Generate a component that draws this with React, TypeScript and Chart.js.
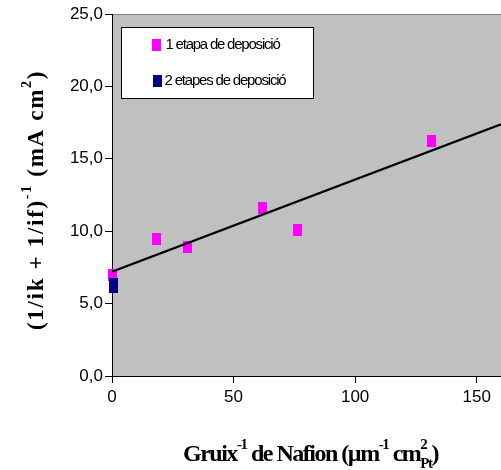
import React, { useEffect, useRef } from "react";
import { Chart, registerables } from "chart.js";

Chart.register(...registerables);

// ---- data ----
const SERIES1_LABEL = "1 etapa de deposició";
const SERIES2_LABEL = "2 etapes de deposició";
const S1_X = [0, 18.4, 31.0, 61.9, 76.5, 131.6];
const S1_Y = [6.96, 9.43, 8.93, 11.58, 10.08, 16.26];
const S2_X = [0.8, 0.8];
const S2_Y = [6.32, 6.18];
const TREND_X = [0, 160];
const TREND_Y = [7.2, 17.38];
const X_TICKS = [0, 50, 100, 150];
const Y_TICKS = [0, 5, 10, 15, 20, 25];

const PINK = "#FF00FF";
const NAVY = "#000080";
const SANS = "'Liberation Sans', Arial, sans-serif";
const SERIF = "'Liberation Serif', 'Times New Roman', serif";

type Seg = { t: string; k?: "sup" | "sub" | "supsub"; s2?: string };

const X_TITLE: Seg[] = [
  { t: "Gruix" },
  { t: "-1", k: "sup" },
  { t: " de Nafion (µm" },
  { t: "-1", k: "sup" },
  { t: " cm" },
  { t: "2", k: "supsub", s2: "Pt" },
  { t: ")" },
];
const Y_TITLE: Seg[] = [
  { t: "(1/ik + 1/if)" },
  { t: "-1", k: "sup" },
  { t: " (mA cm" },
  { t: "2", k: "sup" },
  { t: ")" },
];

function markerCanvas(color: string, w: number, h: number) {
  const c = document.createElement("canvas");
  c.width = w;
  c.height = h;
  const g = c.getContext("2d")!;
  g.fillStyle = color;
  g.fillRect(0, 0, w, h);
  return c;
}

function strW(ctx: CanvasRenderingContext2D, s: string, font: string, sp: number) {
  ctx.font = font;
  let w = 0;
  for (const ch of s) w += ctx.measureText(ch).width + sp;
  return w;
}

function drawStr(ctx: CanvasRenderingContext2D, s: string, x: number, y: number, font: string, sp: number) {
  ctx.font = font;
  let cx = x;
  for (const ch of s) {
    ctx.fillText(ch, cx, y);
    cx += ctx.measureText(ch).width + sp;
  }
  return cx - x;
}

function richWidth(ctx: CanvasRenderingContext2D, segs: Seg[], size: number, fam: string, sp: number) {
  const main = `bold ${size}px ${fam}`;
  const small = `bold ${Math.round(size * 0.62)}px ${fam}`;
  let w = 0;
  for (const s of segs) {
    if (!s.k) w += strW(ctx, s.t, main, sp);
    else if (s.k === "supsub") w += Math.max(strW(ctx, s.t, small, sp), strW(ctx, s.s2 || "", small, sp));
    else w += strW(ctx, s.t, small, sp);
  }
  return w;
}

function countChars(segs: Seg[]) {
  let n = 0;
  for (const s of segs) n += Math.max(s.t.length, (s.s2 || "").length);
  return n;
}

function drawRich(
  ctx: CanvasRenderingContext2D,
  segs: Seg[],
  cx: number,
  baseY: number,
  size: number,
  fam: string,
  target: number
) {
  const natural = richWidth(ctx, segs, size, fam, 0);
  const sp = (target - natural) / countChars(segs);
  const total = richWidth(ctx, segs, size, fam, sp);
  const main = `bold ${size}px ${fam}`;
  const small = `bold ${Math.round(size * 0.62)}px ${fam}`;
  let x = cx - total / 2;
  ctx.textBaseline = "alphabetic";
  ctx.textAlign = "left";
  for (const s of segs) {
    if (!s.k) x += drawStr(ctx, s.t, x, baseY, main, sp);
    else if (s.k === "sup") x += drawStr(ctx, s.t, x, baseY - size * 0.5, small, sp);
    else if (s.k === "sub") x += drawStr(ctx, s.t, x, baseY + size * 0.3, small, sp);
    else {
      const a = drawStr(ctx, s.t, x, baseY - size * 0.5, small, sp);
      const b = drawStr(ctx, s.s2 || "", x, baseY + size * 0.3, small, sp);
      x += Math.max(a, b);
    }
  }
}

const bgPlugin = {
  id: "bgPlugin",
  beforeDraw(chart: any) {
    const { ctx, chartArea } = chart;
    ctx.save();
    ctx.fillStyle = "#FFFFFF";
    ctx.fillRect(0, 0, chart.width, chart.height);
    ctx.fillStyle = "#C0C0C0";
    ctx.fillRect(chartArea.left, chartArea.top, chartArea.right - chartArea.left, chartArea.bottom - chartArea.top);
    ctx.strokeStyle = "#808080";
    ctx.lineWidth = 1;
    ctx.beginPath();
    ctx.moveTo(chartArea.left, chartArea.top + 0.5);
    ctx.lineTo(chartArea.right, chartArea.top + 0.5);
    ctx.stroke();
    ctx.restore();
  },
};

const overlayPlugin = {
  id: "overlayPlugin",
  afterDraw(chart: any) {
    const { ctx } = chart;
    ctx.save();
    // legend
    const lx = 121, ly = 27, lw = 192, lh = 71;
    ctx.fillStyle = "#FFFFFF";
    ctx.fillRect(lx, ly, lw, lh);
    ctx.strokeStyle = "#000000";
    ctx.lineWidth = 1;
    ctx.strokeRect(lx + 0.5, ly + 0.5, lw, lh);
    const items = [
      { label: chart.data.datasets[1].label, color: PINK, y: 44.8, mx: 152, tx: 165.5, w: 114 },
      { label: chart.data.datasets[2].label, color: NAVY, y: 80.5, mx: 153, tx: 164.5, w: 121 },
    ];
    for (const it of items) {
      ctx.fillStyle = it.color;
      ctx.fillRect(it.mx, Math.round(it.y - 6), 9, 12);
      const font = `15px ${SANS}`;
      const nat = strW(ctx, it.label, font, 0);
      const sp = (it.w - nat) / it.label.length;
      ctx.fillStyle = "#000000";
      ctx.textBaseline = "middle";
      ctx.textAlign = "left";
      drawStr(ctx, it.label, it.tx, it.y, font, sp);
    }
    // titles
    ctx.fillStyle = "#000000";
    drawRich(ctx, X_TITLE, 310.5, 461, 24, SERIF, 255);
    ctx.save();
    ctx.translate(42.5, 200);
    ctx.rotate(-Math.PI / 2);
    drawRich(ctx, Y_TITLE, 0, 0, 23, SERIF, 260);
    ctx.restore();
    ctx.restore();
  },
};

export default function App() {
  const ref = useRef<HTMLCanvasElement | null>(null);
  useEffect(() => {
    if (!ref.current) return;
    const pinkM = markerCanvas(PINK, 9, 12);
    const navyM = markerCanvas(NAVY, 9, 12);
    const chart = new Chart(ref.current, {
      type: "scatter",
      data: {
        datasets: [
          {
            type: "line",
            label: "trend",
            data: TREND_X.map((x, i) => ({ x, y: TREND_Y[i] })),
            borderColor: "#000000",
            borderWidth: 2.2,
            pointRadius: 0,
            fill: false,
            order: 0,
          } as any,
          {
            label: SERIES1_LABEL,
            data: S1_X.map((x, i) => ({ x, y: S1_Y[i] })),
            pointStyle: pinkM,
            pointRadius: 6,
            backgroundColor: PINK,
            order: 2,
            clip: false,
          } as any,
          {
            label: SERIES2_LABEL,
            data: S2_X.map((x, i) => ({ x, y: S2_Y[i] })),
            pointStyle: navyM,
            pointRadius: 6,
            backgroundColor: NAVY,
            order: 1,
            clip: false,
          } as any,
        ],
      },
      options: {
        animation: false,
        responsive: false,
        events: [],
        layout: { autoPadding: false, padding: { top: 14, left: 0, right: 0, bottom: 0 } },
        plugins: { legend: { display: false }, tooltip: { enabled: false } },
        scales: {
          x: {
            type: "linear",
            min: 0,
            max: 160,
            afterBuildTicks: (s: any) => {
              s.ticks = X_TICKS.map((v) => ({ value: v }));
            },
            afterFit: (s: any) => {
              s.height = 94;
              s.paddingRight = 0;
              s.paddingLeft = 0;
            },
            grid: { drawOnChartArea: false, drawTicks: true, tickLength: 7, color: "#000000" },
            border: { color: "#000000", width: 1 },
            ticks: {
              font: { family: SANS, size: 17 },
              color: "#000000",
              padding: 4,
              maxRotation: 0,
              callback: (v: any) => String(v),
            },
          },
          y: {
            type: "linear",
            min: 0,
            max: 25,
            afterBuildTicks: (s: any) => {
              s.ticks = Y_TICKS.map((v) => ({ value: v }));
            },
            afterFit: (s: any) => {
              s.width = 112;
              s.paddingTop = 0;
              s.paddingBottom = 0;
            },
            grid: { drawOnChartArea: false, drawTicks: true, tickLength: 7, color: "#000000" },
            border: { color: "#000000", width: 1 },
            ticks: {
              font: { family: SANS, size: 17 },
              color: "#000000",
              padding: 2,
              callback: (v: any) => Number(v).toFixed(1).replace(".", ","),
            },
          },
        },
      },
      plugins: [bgPlugin, overlayPlugin],
    } as any);
    return () => chart.destroy();
  }, []);
  return (
    <div style={{ position: "fixed", left: 0, top: 0, width: 501, height: 470 }}>
      <canvas ref={ref} width={501} height={470} style={{ display: "block", width: 501, height: 470 }} />
    </div>
  );
}
